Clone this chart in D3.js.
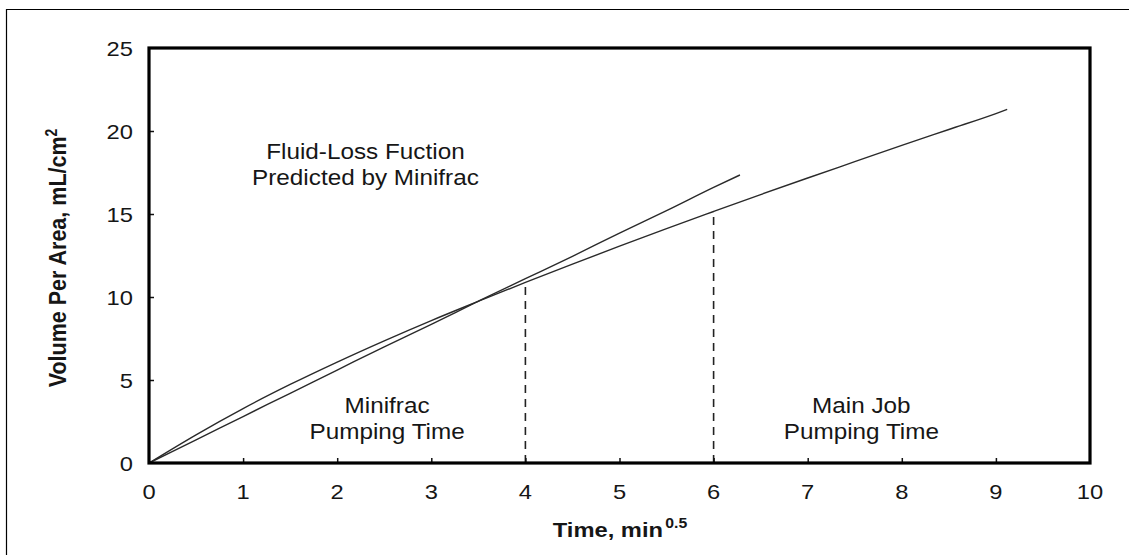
<!DOCTYPE html>
<html>
<head>
<meta charset="utf-8">
<script src="https://cdn.jsdelivr.net/npm/d3@7"></script>
<style>
    body { margin: 0; background: #fff; }
    svg { display: block; }
    text { font-family: "Liberation Sans", Arial, sans-serif; fill: #161616; }
</style>
</head>
<body>
<svg width="1129" height="555"></svg>
<script>
// values
let xTicks = [0, 1, 2, 3, 4, 5, 6, 7, 8, 9, 10];
let yTicks = [0, 5, 10, 15, 20, 25];

// main job fluid loss (curved one)
let mainT = [0, 0.5, 1, 1.5, 2, 2.5, 3, 3.5, 4, 4.5, 5, 5.5, 6, 6.5, 7, 7.5, 8, 8.5, 9, 9.12];
let mainV = [0, 1.7, 3.28, 4.73, 6.08, 7.36, 8.58, 9.74, 10.88, 11.98, 13.06, 14.12, 15.15, 16.17, 17.17, 18.15, 19.13, 20.09, 21.05, 21.3];

// fluid-loss function predicted by minifrac (nearly straight)
let miniT = [0, 0.5, 1, 1.5, 2, 2.5, 3, 3.5, 4, 4.5, 5, 5.5, 6, 6.28];
let miniV = [0, 1.4, 2.8, 4.2, 5.6, 7.0, 8.35, 9.75, 11.1, 12.45, 13.85, 15.2, 16.6, 17.35];

// end of pumping, dashed drops
let pumpT = [4, 6];
let pumpV = [10.88, 15.15];

let labels = [
    {t: 2.3, v: 18.3, lines: ['Fluid-Loss Fuction', 'Predicted by Minifrac']},
    {t: 2.53, v: 3.0, lines: ['Minifrac', 'Pumping Time']},
    {t: 7.57, v: 3.0, lines: ['Main Job', 'Pumping Time']}
];

let sx = 1.13; // the source picture is stretched sideways a bit
let pL = 149, pR = 1090, pT = 48, pB = 463;

let svg = d3.select('svg');

let x = d3.scaleLinear().domain([0, 10]).range([pL, pR]);
let y = d3.scaleLinear().domain([0, 25]).range([pB, pT]);

// outer frame (only top and left are in view)
svg.append('path')
    .attr('d', 'M6.5,555 V9.5 H1129')
    .attr('fill', 'none').attr('stroke', '#000').attr('stroke-width', 1.2);

// curves
let line = d3.line().x(d => x(d[0])).y(d => y(d[1])).curve(d3.curveMonotoneX);
[d3.zip(mainT, mainV), d3.zip(miniT, miniV)].forEach(pts => {
    svg.append('path')
        .attr('d', line(pts))
        .attr('fill', 'none')
        .attr('stroke', '#2a2a2a')
        .attr('stroke-width', 1.4);
});

// dashed pumping time markers
svg.selectAll('.drop')
    .data(d3.zip(pumpT, pumpV))
    .enter().append('line')
    .attr('x1', d => x(d[0])).attr('x2', d => x(d[0]))
    .attr('y1', y(0)).attr('y2', d => y(d[1]))
    .attr('stroke', '#222').attr('stroke-width', 1.6)
    .attr('stroke-dasharray', '8,6');

// inward ticks
let xa = d3.axisTop(x).tickValues(xTicks.slice(1, -1)).tickSize(5).tickFormat('');
let ya = d3.axisRight(y).tickValues(yTicks.slice(1, -1)).tickSize(5).tickFormat('');
svg.append('g').attr('transform', `translate(0,${pB})`).call(xa)
    .call(g => g.select('.domain').remove())
    .selectAll('line').attr('stroke', '#111').attr('stroke-width', 1.5);
svg.append('g').attr('transform', `translate(${pL},0)`).call(ya)
    .call(g => g.select('.domain').remove())
    .selectAll('line').attr('stroke', '#111').attr('stroke-width', 1.5);

// plot box
svg.append('rect')
    .attr('x', pL).attr('y', pT)
    .attr('width', pR - pL).attr('height', pB - pT)
    .attr('fill', 'none').attr('stroke', '#000').attr('stroke-width', 3.2);

// tick labels
svg.selectAll('.xl')
    .data(xTicks)
    .enter().append('text')
    .attr('transform', d => `translate(${x(d)},499) scale(${sx},1)`)
    .attr('text-anchor', 'middle')
    .style('font-size', '21px')
    .text(d => d);

svg.selectAll('.yl')
    .data(yTicks)
    .enter().append('text')
    .attr('transform', d => `translate(133,${y(d) + 7.5}) scale(${sx},1)`)
    .attr('text-anchor', 'end')
    .style('font-size', '21px')
    .text(d => d);

// axis titles
let xt = svg.append('text')
    .attr('transform', `translate(620,537) scale(${sx},1)`)
    .attr('text-anchor', 'middle')
    .style('font-size', '21px').style('font-weight', 'bold');
xt.append('tspan').text('Time, min');
xt.append('tspan').attr('dx', 2).attr('dy', -9).style('font-size', '14px').text('0.5');

let yt = svg.append('text')
    .attr('transform', `translate(66,258) scale(${sx},1) rotate(-90)`)
    .attr('text-anchor', 'middle')
    .style('font-size', '21.5px').style('font-weight', 'bold');
yt.append('tspan').text('Volume Per Area, mL/cm');
yt.append('tspan').attr('dy', -8).style('font-size', '14px').text('2');

// annotations
labels.forEach(l => {
    let t = svg.append('text')
        .attr('transform', `translate(${x(l.t)},${y(l.v)}) scale(${sx},1)`)
        .attr('text-anchor', 'middle')
        .style('font-size', '21.5px');
    l.lines.forEach((s, i) => {
        t.append('tspan').attr('x', 0).attr('dy', i ? 26 : 0).text(s);
    });
});
</script>
</body>
</html>
